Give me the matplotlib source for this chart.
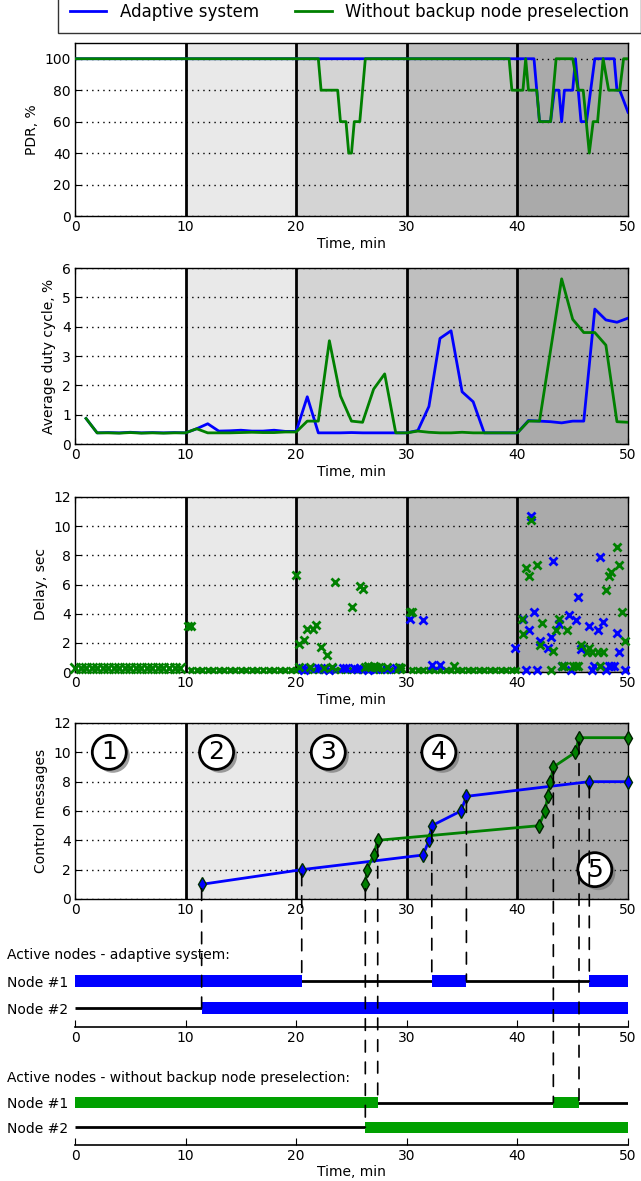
import matplotlib
matplotlib.use('Agg')
import matplotlib.pyplot as plt
import matplotlib.patheffects as pe
from matplotlib.patches import ConnectionPatch
from matplotlib.lines import Line2D

# ---------------- data ----------------
phase_edges = [0, 10, 20, 30, 40, 50]
phase_colors = ['#ffffff', '#e9e9e9', '#d4d4d4', '#bfbfbf', '#aaaaaa']
phase_labels = ['1', '2', '3', '4', '5']
phase_label_t = [3.1, 12.8, 22.9, 32.9, 47.0]
phase_label_y = [10, 10, 10, 10, 2]

# PDR, %
pdr_adaptive_t = [0, 41.5, 41.75, 42.0, 43.0, 43.35, 43.75, 44.0, 44.25, 45.0, 45.25,
                  45.75, 46.25, 47.0, 48.75, 49.0, 49.25, 50]
pdr_adaptive_v = [100, 100, 80, 60, 60, 80, 80, 60, 80, 80, 100,
                  60, 60, 100, 100, 80, 80, 66]
pdr_nobackup_t = [0, 22.0, 22.25, 23.75, 24.0, 24.5, 24.75, 25.0, 25.25, 25.75, 26.25,
                  39.25, 39.5, 40.5, 40.75, 41.0, 41.75, 42.0, 43.0, 43.5, 45.0, 45.5,
                  45.95, 46.5, 46.85, 47.25, 47.75, 48.25, 49.25, 49.6, 50]
pdr_nobackup_v = [100, 100, 80, 80, 60, 60, 40, 40, 60, 60, 100,
                  100, 80, 80, 100, 80, 80, 60, 60, 100, 100, 80,
                  80, 40, 60, 60, 100, 80, 80, 100, 100]

# Average duty cycle, %
duty_t = list(range(1, 51))
duty_adaptive = [0.87, 0.38, 0.39, 0.38, 0.40, 0.38, 0.39, 0.38, 0.39, 0.38,
                 0.52, 0.69, 0.44, 0.45, 0.47, 0.44, 0.44, 0.47, 0.43, 0.43,
                 1.61, 0.38, 0.38, 0.38, 0.39, 0.38, 0.38, 0.38, 0.38, 0.38,
                 0.46, 1.28, 3.60, 3.86, 1.78, 1.44, 0.38, 0.38, 0.38, 0.38,
                 0.80, 0.78, 0.76, 0.72, 0.78, 0.78, 4.60, 4.23, 4.15, 4.29]
duty_nobackup = [0.87, 0.38, 0.38, 0.37, 0.39, 0.37, 0.38, 0.37, 0.38, 0.38,
                 0.52, 0.38, 0.38, 0.38, 0.39, 0.40, 0.39, 0.39, 0.41, 0.41,
                 0.78, 0.78, 3.52, 1.64, 0.78, 0.74, 1.87, 2.39, 0.38, 0.38,
                 0.44, 0.40, 0.38, 0.38, 0.40, 0.38, 0.38, 0.38, 0.38, 0.38,
                 0.78, 0.78, 3.20, 5.63, 4.25, 3.80, 3.80, 3.37, 0.76, 0.74]

# Delay, sec (individual packets)
delay_adaptive_t = [20.5, 20.75, 21.25, 22.0, 22.25, 22.5, 23.0, 23.25, 24.25, 24.5,
                    25.25, 25.5, 25.75, 26.5, 26.75, 27.25, 28.25, 29.0,
                    30.25, 31.5, 32.25, 33.0, 39.75,
                    40.48, 40.75, 41.05, 41.23, 41.5, 41.74, 42.0, 42.74, 43.0, 43.25,
                    43.76, 44.0, 44.7, 44.84, 45.26, 45.5, 45.74, 46.5, 46.74, 46.95,
                    47.28, 47.46, 47.76, 48.0, 48.3, 48.5, 48.75, 48.99, 49.23, 49.77]
delay_adaptive_v = [0.25, 0.15, 0.3, 0.3, 0.3, 0.2, 0.15, 0.3, 0.3, 0.3,
                    0.3, 0.2, 0.3, 0.15, 0.3, 0.2, 0.2, 0.25,
                    3.64, 3.6, 0.46, 0.46, 1.62,
                    3.64, 0.11, 2.86, 10.69, 4.12, 0.11, 2.15, 1.62, 2.38, 7.62,
                    3.32, 0.39, 3.89, 0.11, 3.59, 5.15, 1.58, 3.18, 0.11, 0.39,
                    2.91, 7.92, 3.41, 0.16, 0.39, 0.39, 0.39, 2.68, 1.37, 0.16]
delay_nobackup_t = [10.25, 10.5,
                    20.0, 20.25, 20.75, 21.0, 21.5, 21.75, 22.25, 22.75, 23.5, 25.0,
                    25.75, 26.0,
                    20.25, 21.25, 22.5, 23.25, 26.25, 26.5, 26.75, 27.0, 27.25, 27.5,
                    28.25, 29.25, 29.5,
                    30.25, 30.5, 34.25,
                    40.4, 40.54, 40.75, 41.02, 41.23, 41.74, 42.0, 42.26, 43.0, 43.25,
                    43.52, 43.76, 44.0, 44.24, 44.5, 45.0, 45.26, 45.5, 45.74, 46.26,
                    46.5, 46.77, 47.28, 47.49, 47.76, 48.0, 48.27, 48.5, 48.99, 49.23,
                    49.5, 49.77]
delay_nobackup_v = [3.18, 3.18,
                    6.68, 1.92, 2.2, 2.93, 2.93, 3.2, 1.69, 1.14, 6.18, 4.44,
                    5.93, 5.67,
                    0.35, 0.35, 0.3, 0.35, 0.35, 0.4, 0.35, 0.4, 0.35, 0.35,
                    0.35, 0.35, 0.3,
                    4.14, 4.14, 0.39,
                    3.64, 2.61, 7.12, 6.61, 10.39, 7.37, 1.88, 3.36, 0.11, 1.42,
                    2.88, 3.64, 0.39, 0.39, 2.91, 0.39, 0.39, 0.39, 1.88, 1.37,
                    1.62, 1.37, 1.37, 0.39, 1.37, 5.61, 6.61, 6.86, 8.6, 7.37,
                    4.12, 2.1]
# steady low-delay packets of the reference system (dense band)
delay_band_t = [0, 0.5, 1, 1.5, 2, 2.5, 3, 3.5, 4, 4.5, 5, 5.5, 6, 6.5, 7, 7.5, 8, 8.5, 9, 9.5]
delay_band_v = [0.3, 0.3, 0.3, 0.3, 0.3, 0.3, 0.3, 0.3, 0.3, 0.3,
                0.3, 0.3, 0.3, 0.3, 0.3, 0.3, 0.3, 0.3, 0.3, 0.3]
delay_low_t = [10.5, 11, 11.5, 12, 12.5, 13, 13.5, 14, 14.5, 15, 15.5, 16, 16.5, 17, 17.5,
               18, 18.5, 19, 19.5, 20, 20.5, 21, 21.5, 22, 22.5, 23, 23.5, 24, 24.5, 25,
               25.5, 26, 26.5, 27, 27.5, 28, 28.5, 29, 29.5,
               30.5, 31, 31.5, 32, 32.5, 33, 33.5, 34, 34.5, 35, 35.5, 36, 36.5, 37, 37.5,
               38, 38.5, 39, 39.5, 39.9]
delay_low_v = [0.12] * len(delay_low_t)

# Control messages (cumulative)
ctrl_adaptive_t = [11.45, 20.5, 31.48, 32.0, 32.26, 34.9, 35.39, 46.5, 50]
ctrl_adaptive_n = [1, 2, 3, 4, 5, 6, 7, 8, 8]
ctrl_nobackup_t = [26.25, 26.4, 27.0, 27.37, 41.96, 42.5, 42.74, 42.98, 43.25, 45.24, 45.57, 50]
ctrl_nobackup_n = [1, 2, 3, 4, 5, 6, 7, 8, 9, 10, 11, 11]
# which control messages trigger a node switch (index, node row: 1 = Node #1, 0 = Node #2)
switch_adaptive_idx = [0, 1, 4, 6, 7]
switch_adaptive_row = [0, 1, 1, 1, 1]
switch_nobackup_idx = [0, 3, 8, 10]
switch_nobackup_row = [0, 1, 1, 1]

# Active node intervals (start, end)
adaptive_node1_on = [(0, 20.5), (32.26, 35.39), (46.5, 50)]
adaptive_node2_on = [(11.45, 50)]
nobackup_node1_on = [(0, 27.37), (43.25, 45.57)]
nobackup_node2_on = [(26.25, 50)]
node_names = ['Node #2', 'Node #1']

BLUE = '#0000ff'
GREEN = '#008000'
GREEN_BAR = '#00a000'

# ---------------- figure ----------------
W, H = 641, 1181
fig = plt.figure(figsize=(W / 100, H / 100), dpi=100)
plt.rcParams['font.family'] = ['DejaVu Sans']


def add_ax(top, bottom, left=75, right=628):
    return fig.add_axes([left / W, 1 - bottom / H, (right - left) / W, (bottom - top) / H])


def style_panel(ax, ylim, yticks, ylabel, xlabel=True):
    for i in range(5):
        ax.axvspan(phase_edges[i], phase_edges[i + 1], color=phase_colors[i], lw=0, zorder=0)
    for x in phase_edges[1:-1]:
        ax.axvline(x, color='black', lw=2, zorder=1)
    ax.set_xlim(0, 50)
    ax.set_ylim(*ylim)
    ax.set_xticks(range(0, 51, 10))
    ax.set_yticks(yticks)
    for y in yticks:
        ax.axhline(y, color='black', lw=1, ls=(0, (1, 3)), zorder=1.5)
    ax.tick_params(direction='in', top=True, right=True, length=4, labelsize=10, pad=3)
    ax.set_ylabel(ylabel, fontsize=10, labelpad=4)
    if xlabel:
        ax.set_xlabel('Time, min', fontsize=10, labelpad=2)
    for s in ax.spines.values():
        s.set_linewidth(1)


ax1 = add_ax(43, 216)
style_panel(ax1, (0, 110), range(0, 101, 20), 'PDR, %')
ax1.plot(pdr_adaptive_t, pdr_adaptive_v, color=BLUE, lw=2, zorder=3)
ax1.plot(pdr_nobackup_t, pdr_nobackup_v, color=GREEN, lw=2, zorder=3)

ax2 = add_ax(268, 444)
style_panel(ax2, (0, 6), range(0, 7), 'Average duty cycle, %')
ax2.plot(duty_t, duty_adaptive, color=BLUE, lw=2, zorder=3)
ax2.plot(duty_t, duty_nobackup, color=GREEN, lw=2, zorder=3)

ax3 = add_ax(497, 672)
style_panel(ax3, (0, 12), range(0, 13, 2), 'Delay, sec')
ax3.plot(delay_band_t, delay_band_v, ls='none', marker='x', ms=7, mew=2, color=GREEN, zorder=3, clip_on=False)
ax3.plot(delay_low_t, delay_low_v, ls='none', marker='x', ms=5, mew=2, color=GREEN, zorder=3, clip_on=False)
ax3.plot(delay_adaptive_t, delay_adaptive_v, ls='none', marker='x', ms=6, mew=2, color=BLUE, zorder=4, clip_on=False)
ax3.plot(delay_nobackup_t, delay_nobackup_v, ls='none', marker='x', ms=6, mew=2, color=GREEN, zorder=4, clip_on=False)

ax4 = add_ax(723, 899)
style_panel(ax4, (0, 12), range(0, 13, 2), 'Control messages', xlabel=False)
ax4.plot(ctrl_adaptive_t, ctrl_adaptive_n, color=BLUE, lw=2, marker='d', ms=7,
         mfc=BLUE, mec='#003000', mew=1, zorder=4, clip_on=False)
ax4.plot(ctrl_nobackup_t, ctrl_nobackup_n, color=GREEN, lw=2, marker='d', ms=7,
         mfc=GREEN, mec='#002000', mew=1, zorder=4, clip_on=False)
for lab, t, y in zip(phase_labels, phase_label_t, phase_label_y):
    txt = ax4.text(t, y, lab, fontsize=18, ha='center', va='center', zorder=6,
                   bbox=dict(boxstyle='circle,pad=0.2', fc='white', ec='black', lw=2))
    txt.get_bbox_patch().set_path_effects([
        pe.SimplePatchShadow(offset=(2.5, -2.5), shadow_rgbFace='#777777', alpha=0.7),
        pe.Normal()])


# node activity panels
def node_panel(top, bottom, title, title_y, on1, on2, color, ylim, xlabel=None):
    ax = add_ax(top, bottom)
    ax.set_xlim(0, 50)
    ax.set_ylim(*ylim)
    for row in (0, 1):
        ax.plot([0, 50], [row, row], color='black', lw=2, zorder=2, solid_capstyle='butt')
    for row, ivs in ((1, on1), (0, on2)):
        ax.barh([row] * len(ivs), [e - s for s, e in ivs], left=[s for s, e in ivs],
                height=0.46, color=color, lw=0, zorder=3)
    ax.set_yticks([0, 1])
    ax.set_yticklabels(node_names, fontsize=10)
    ax.tick_params(axis='y', length=0, pad=5)
    ax.set_xticks(range(0, 51, 10))
    ax.tick_params(axis='x', direction='in', length=5, labelsize=10, pad=3)
    for s in ('left', 'right', 'top'):
        ax.spines[s].set_visible(False)
    ax.spines['bottom'].set_linewidth(1.2)
    ax.patch.set_alpha(0)
    fig.text(7 / W, 1 - title_y / H, title, fontsize=10, ha='left', va='center')
    if xlabel:
        ax.set_xlabel(xlabel, fontsize=10, labelpad=1)
    return ax


ax5 = node_panel(965, 1027, 'Active nodes - adaptive system:', 955,
                 adaptive_node1_on, adaptive_node2_on, BLUE, (-0.7, 1.6))
ax6 = node_panel(1088, 1145, 'Active nodes - without backup node preselection:', 1078,
                 nobackup_node1_on, nobackup_node2_on, GREEN_BAR, (-0.72, 1.6), xlabel='Time, min')

# dashed connectors from control messages to node switches
for idx, row in zip(switch_adaptive_idx, switch_adaptive_row):
    t, n = ctrl_adaptive_t[idx], ctrl_adaptive_n[idx]
    cp = ConnectionPatch(xyA=(t, n - 0.3), coordsA=ax4.transData, xyB=(t, row), coordsB=ax5.transData,
                         color='black', lw=1.2, linestyle=(0, (7, 6)), zorder=5)
    fig.add_artist(cp)
for idx, row in zip(switch_nobackup_idx, switch_nobackup_row):
    t, n = ctrl_nobackup_t[idx], ctrl_nobackup_n[idx]
    cp = ConnectionPatch(xyA=(t, n - 0.3), coordsA=ax4.transData, xyB=(t, row), coordsB=ax6.transData,
                         color='black', lw=1.2, linestyle=(0, (7, 6)), zorder=5)
    fig.add_artist(cp)

# legend
handles = [Line2D([], [], color=BLUE, lw=2), Line2D([], [], color=GREEN, lw=2)]
leg = fig.legend(handles, ['Adaptive system', 'Without backup node preselection'], ncol=2,
                 loc='lower left', bbox_to_anchor=(58 / W, 1 - 33 / H), fontsize=12,
                 frameon=True, fancybox=False, edgecolor='black', borderaxespad=0,
                 handlelength=2.2, handletextpad=0.8, columnspacing=2.2, borderpad=0.7)
leg.get_frame().set_linewidth(1)

fig.savefig('out.png', dpi=100)
